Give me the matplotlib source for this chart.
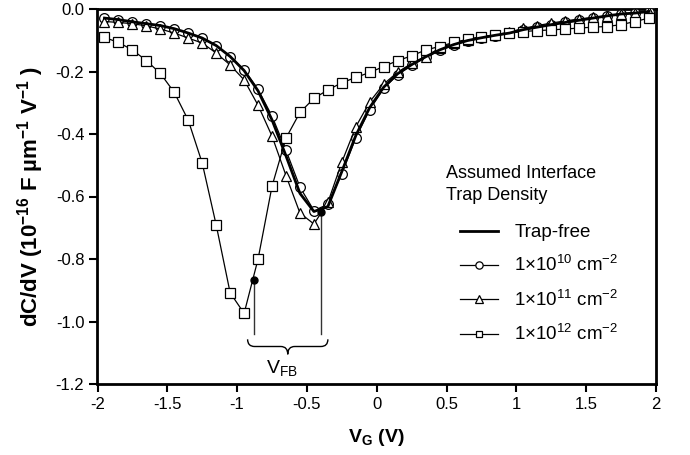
import matplotlib
matplotlib.use("Agg")
import matplotlib.pyplot as plt
from matplotlib.path import Path
from matplotlib.patches import PathPatch

plt.rcParams['font.family'] = ['Liberation Sans', 'DejaVu Sans']
plt.rcParams['mathtext.fontset'] = 'custom'
plt.rcParams['mathtext.rm'] = 'Liberation Sans'
plt.rcParams['mathtext.it'] = 'Liberation Sans:italic'
plt.rcParams['mathtext.bf'] = 'Liberation Sans:bold'

# gate voltage grid (V)
vg = [-1.95, -1.85, -1.75, -1.65, -1.55, -1.45, -1.35, -1.25, -1.15, -1.05,
      -0.95, -0.85, -0.75, -0.65, -0.55, -0.45, -0.35, -0.25, -0.15, -0.05,
      0.05, 0.15, 0.25, 0.35, 0.45, 0.55, 0.65, 0.75, 0.85, 0.95,
      1.05, 1.15, 1.25, 1.35, 1.45, 1.55, 1.65, 1.75, 1.85, 1.95]

# dC/dV in 1e-16 F/um/V
trap_free = [-0.029, -0.034, -0.041, -0.047, -0.053, -0.063, -0.077, -0.093, -0.117, -0.152,
             -0.197, -0.262, -0.355, -0.470, -0.590, -0.648, -0.632, -0.520, -0.405, -0.315,
             -0.250, -0.207, -0.178, -0.153, -0.131, -0.114, -0.101, -0.092, -0.084, -0.077,
             -0.066, -0.058, -0.050, -0.043, -0.036, -0.029, -0.022, -0.016, -0.013, -0.008]
dit_1e10 = [-0.029, -0.034, -0.041, -0.047, -0.053, -0.063, -0.077, -0.093, -0.117, -0.152,
            -0.195, -0.257, -0.343, -0.452, -0.570, -0.645, -0.625, -0.527, -0.412, -0.322,
            -0.254, -0.210, -0.180, -0.155, -0.132, -0.115, -0.102, -0.093, -0.085, -0.078,
            -0.066, -0.058, -0.050, -0.043, -0.036, -0.029, -0.022, -0.016, -0.013, -0.008]
dit_1e11 = [-0.040, -0.043, -0.047, -0.054, -0.064, -0.077, -0.093, -0.109, -0.141, -0.179,
            -0.227, -0.308, -0.407, -0.533, -0.653, -0.688, -0.619, -0.490, -0.377, -0.297,
            -0.240, -0.202, -0.174, -0.152, -0.125, -0.109, -0.099, -0.091, -0.083, -0.074,
            -0.062, -0.053, -0.045, -0.038, -0.032, -0.027, -0.022, -0.015, -0.013, -0.008]
dit_1e12 = [-0.091, -0.107, -0.131, -0.165, -0.206, -0.267, -0.356, -0.493, -0.691, -0.908,
            -0.974, -0.800, -0.567, -0.413, -0.331, -0.286, -0.259, -0.236, -0.219, -0.203,
            -0.184, -0.165, -0.150, -0.131, -0.120, -0.107, -0.097, -0.088, -0.083, -0.077,
            -0.072, -0.069, -0.067, -0.064, -0.061, -0.058, -0.056, -0.050, -0.040, -0.029]

# flat-band points (1e12 curve, trap-free curve)
vfb_x = [-0.88, -0.40]
vfb_y = [-0.868, -0.648]

labels = ['Trap-free', '1×10$^{10}$ cm$^{-2}$', '1×10$^{11}$ cm$^{-2}$', '1×10$^{12}$ cm$^{-2}$']
xticks = [-2, -1.5, -1, -0.5, 0, 0.5, 1, 1.5, 2]
xticklabels = ['-2', '-1.5', '-1', '-0.5', '0', '0.5', '1', '1.5', '2']
yticks = [0.0, -0.2, -0.4, -0.6, -0.8, -1.0, -1.2]

fig = plt.figure(figsize=(6.9, 4.55), dpi=100)
ax = fig.add_axes([97.5/690, 1 - 384/455, (656 - 97.5)/690, (384 - 9)/455])

mk = dict(markerfacecolor='white', markeredgecolor='black', markeredgewidth=0.9)
ax.plot(vg, trap_free, color='black', lw=2.0, label=labels[0], zorder=4)
ax.plot(vg, dit_1e10, color='black', lw=0.9, marker='o', markersize=7, label=labels[1], zorder=3, **mk)
ax.plot(vg, dit_1e11, color='black', lw=0.9, marker='^', markersize=7.5, label=labels[2], zorder=3, **mk)
ax.plot(vg, dit_1e12, color='black', lw=0.9, marker='s', markersize=6.5, label=labels[3], zorder=3, **mk)

# flat-band markers and brace
ax.plot(vfb_x, vfb_y, 'o', color='black', markersize=5, zorder=5)
for x, y in zip(vfb_x, vfb_y):
    ax.plot([x, x], [y, -1.04], color='#333333', lw=1.0, zorder=2)

x0, x1 = vfb_x[0] - 0.045, vfb_x[1] + 0.05
xm = (x0 + x1) / 2
ytop, ymid, ytip = -1.057, -1.080, -1.105
verts = [(x0, ytop), (x0, ymid), (x0 + 0.05, ymid),
         (xm - 0.05, ymid), (xm, ymid), (xm, ytip),
         (xm, ymid), (xm + 0.05, ymid),
         (x1 - 0.05, ymid), (x1, ymid), (x1, ytop)]
codes = [Path.MOVETO, Path.CURVE3, Path.CURVE3,
         Path.LINETO, Path.CURVE3, Path.CURVE3,
         Path.CURVE3, Path.CURVE3,
         Path.LINETO, Path.CURVE3, Path.CURVE3]
ax.add_patch(PathPatch(Path(verts, codes), fill=False, edgecolor='black', lw=1.0))
ax.text(xm - 0.04, -1.15, 'V$_{\\mathrm{FB}}$', ha='center', va='center', fontsize=14)

ax.set_xlim(-2, 2)
ax.set_ylim(-1.2, 0.0)
ax.set_xticks(xticks)
ax.set_xticklabels(xticklabels)
ax.set_yticks(yticks)
ax.set_yticklabels(['%.1f' % t for t in yticks])
ax.tick_params(direction='out', length=6, width=1.5, labelsize=12, top=False, right=False)
for s in ax.spines.values():
    s.set_linewidth(2.0)

ax.set_xlabel('V$_\\mathbf{G}$ (V)', fontsize=14, fontweight='bold', labelpad=11)
ax.set_ylabel('dC/dV (10$^{\\mathbf{-16}}$ F µm$^{\\mathbf{-1}}$ V$^{\\mathbf{-1}}$ )',
              fontsize=16, fontweight='bold', labelpad=7)

# legend title as separate text so entries can be indented
fig.text(446/690, 1 - 165/455, 'Assumed Interface\nTrap Density', ha='left', va='top',
         fontsize=13, linespacing=1.38)
leg = ax.legend(loc='upper left', bbox_to_anchor=(460/690, 1 - 224/455),
                bbox_transform=fig.transFigure, frameon=False, fontsize=13.5,
                handlelength=2.0, handletextpad=0.9, labelspacing=0.76,
                borderpad=0, borderaxespad=0, markerscale=0.75)

fig.savefig('out.png', dpi=100)
